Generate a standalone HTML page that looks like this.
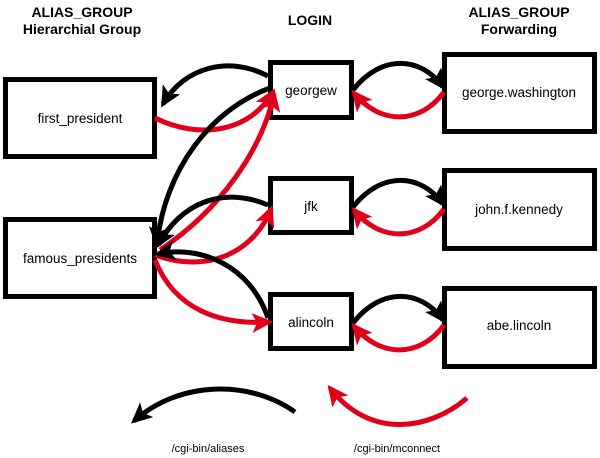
<!DOCTYPE html>
<html><head><meta charset="utf-8"><style>
html,body{margin:0;padding:0;background:#fff;}
svg{display:block;}
text{font-family:"Liberation Sans",Arial,sans-serif;}
</style></head><body>
<svg width="600" height="458" viewBox="0 0 600 458" xmlns="http://www.w3.org/2000/svg">
<defs>
<marker id="ab" markerUnits="userSpaceOnUse" markerWidth="26" markerHeight="26" refX="17" refY="10" orient="auto"><path d="M0,0 L21,10 L0,20 L5,10 Z" fill="#000"/></marker>
<marker id="ar" markerUnits="userSpaceOnUse" markerWidth="26" markerHeight="26" refX="17" refY="10" orient="auto"><path d="M0,0 L21,10 L0,20 L5,10 Z" fill="#e0001b"/></marker>
</defs>
<g font-weight="bold" font-size="14" text-anchor="middle" fill="#000">
<text x="82" y="17">ALIAS_GROUP</text><text x="82" y="34">Hierarchial Group</text>
<text x="310" y="25">LOGIN</text>
<text x="519" y="17">ALIAS_GROUP</text><text x="519" y="34">Forwarding</text>
</g>
<g fill="#fff" stroke="#000" stroke-width="5">
<rect x="5.5" y="79.5" width="149" height="77"/>
<rect x="5.5" y="219.5" width="149" height="77"/>
<rect x="270.5" y="62.5" width="81" height="55"/>
<rect x="270.5" y="178.5" width="81" height="54"/>
<rect x="270.5" y="294.5" width="81" height="54"/>
<rect x="444.5" y="54.5" width="150" height="77"/>
<rect x="444.5" y="170.5" width="150" height="78"/>
<rect x="444.5" y="288.5" width="150" height="78"/>
</g>
<g font-size="13.5" text-anchor="middle" fill="#000">
<text x="80" y="123">first_president</text>
<text x="80" y="263">famous_presidents</text>
<text x="311" y="95">georgew</text>
<text x="311" y="211">jfk</text>
<text x="311" y="327">alincoln</text>
<text x="519" y="97">george.washington</text>
<text x="519" y="214">john.f.kennedy</text>
<text x="519" y="330">abe.lincoln</text>
<text x="208" y="452" font-size="11">/cgi-bin/aliases</text>
<text x="397" y="452" font-size="11">/cgi-bin/mconnect</text>
</g>
<g fill="none" stroke-width="5">
<path d="M268,76 C230,56 185,66 163,104" stroke="#000" marker-end="url(#ab)"/>
<path d="M155,118 C200,140 250,132 273,92" stroke="#e0001b" marker-end="url(#ar)"/>
<path d="M270,88 C210,110 165,170 157,244" stroke="#000" marker-end="url(#ab)"/>
<path d="M160,250 C220,210 262,150 274,94" stroke="#e0001b" marker-end="url(#ar)"/>
<path d="M268,205 C220,185 180,205 158,245" stroke="#000" marker-end="url(#ab)"/>
<path d="M155,255 C210,275 255,250 271,209" stroke="#e0001b" marker-end="url(#ar)"/>
<path d="M268,318 C250,265 200,245 158,254" stroke="#000" marker-end="url(#ab)"/>
<path d="M155,260 C175,310 220,325 269,322" stroke="#e0001b" marker-end="url(#ar)"/>
<path d="M353,90 C380,55 420,55 443,87" stroke="#000" marker-end="url(#ab)"/>
<path d="M444,92 C420,125 380,125 354,93" stroke="#e0001b" marker-end="url(#ar)"/>
<path d="M353,207 C380,172 420,172 443,204" stroke="#000" marker-end="url(#ab)"/>
<path d="M444,209 C420,242 380,242 354,210" stroke="#e0001b" marker-end="url(#ar)"/>
<path d="M353,323 C380,288 420,288 443,320" stroke="#000" marker-end="url(#ab)"/>
<path d="M444,325 C420,358 380,358 354,326" stroke="#e0001b" marker-end="url(#ar)"/>
<path d="M295,412 C250,380 180,380 134,421" stroke="#000" marker-end="url(#ab)"/>
<path d="M467,398 C430,430 370,440 330,388" stroke="#e0001b" marker-end="url(#ar)"/>
</g>
</svg>
</body></html>
